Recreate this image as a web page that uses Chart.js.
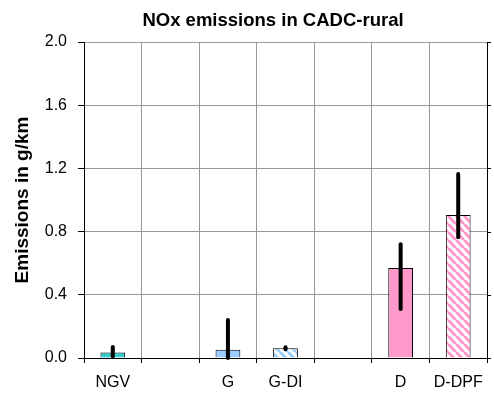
<!DOCTYPE html>
<html>
<head>
<meta charset="utf-8">
<script src="https://cdn.jsdelivr.net/npm/chart.js@4/dist/chart.umd.min.js"></script>
<style>
    html, body { margin: 0; padding: 0; background: #fff; }
    #wrap { width: 494px; height: 394px; }
</style>
</head>
<body>
<div id="wrap"><canvas id="noxChart" width="494" height="394"></canvas></div>
<script>
// Vehicle groups (empty slots act as spacers between groups)
const categories = ['NGV', '', 'G', 'G-DI', '', 'D', 'D-DPF'];
const meanValues = [0.035, null, 0.053, 0.062, null, 0.57, 0.905];
const errorLow = [0.01, null, 0.0, 0.055, null, 0.31, 0.765];
const errorHigh = [0.07, null, 0.24, 0.068, null, 0.72, 1.165];
const yTicks = [0, 0.4, 0.8, 1.2, 1.6, 2.0];
const chartTitle = 'NOx emissions in CADC-rural';

// Diagonal stripe fill for the DI / DPF variants
function stripes(color) {
    const c = document.createElement('canvas');
    c.width = 8;
    c.height = 8;
    const g = c.getContext('2d');
    g.fillStyle = '#fff';
    g.fillRect(0, 0, 8, 8);
    g.strokeStyle = color;
    g.lineWidth = 3;
    g.beginPath();
    for (let k = -8; k <= 16; k += 8) {
        g.moveTo(k, 0);
        g.lineTo(k + 8, 8);
    }
    g.stroke();
    return g.createPattern(c, 'repeat');
}

const fills = ['#33CCCC', null, '#99CCFF', stripes('#99CCFF'), null, '#FF99CC', stripes('#FF99CC')];

// Error bars drawn as thick vertical lines from low to high
const errorBars = {
    id: 'errorBars',
    afterDatasetsDraw(chart) {
        const ctx = chart.ctx;
        const meta = chart.getDatasetMeta(0);
        const y = chart.scales.y;
        ctx.save();
        ctx.strokeStyle = '#000';
        ctx.lineWidth = 4;
        ctx.lineCap = 'round';
        meta.data.forEach((bar, i) => {
            if (errorLow[i] == null) return;
            ctx.beginPath();
            ctx.moveTo(bar.x, y.getPixelForValue(errorLow[i]));
            ctx.lineTo(bar.x, y.getPixelForValue(errorHigh[i]));
            ctx.stroke();
        });
        ctx.restore();
    }
};

// Right-hand frame line with outward tick marks, plus the heading
const frameAndTitle = {
    id: 'frameAndTitle',
    afterDraw(chart) {
        const ctx = chart.ctx;
        const area = chart.chartArea;
        const y = chart.scales.y;
        ctx.save();
        ctx.strokeStyle = '#000';
        ctx.lineWidth = 1;
        ctx.beginPath();
        ctx.moveTo(area.right + 0.5, area.top);
        ctx.lineTo(area.right + 0.5, area.bottom);
        yTicks.forEach(v => {
            const py = Math.round(y.getPixelForValue(v)) + 0.5;
            ctx.moveTo(area.right, py);
            ctx.lineTo(area.right + 4, py);
        });
        ctx.stroke();

        ctx.fillStyle = '#000';
        ctx.font = 'bold 18.5px "Liberation Sans", Arial';
        ctx.textAlign = 'center';
        ctx.textBaseline = 'alphabetic';
        ctx.fillText(chartTitle, 273, 26);
        ctx.restore();
    }
};

new Chart(document.getElementById('noxChart'), {
    type: 'bar',
    data: {
        labels: categories,
        datasets: [{
            data: meanValues,
            backgroundColor: fills,
            borderColor: '#000',
            borderWidth: 1,
            barPercentage: 0.43,
            categoryPercentage: 1.0
        }]
    },
    options: {
        responsive: false,
        animation: false,
        layout: { padding: { top: 42, right: 7, bottom: 0, left: 0 } },
        plugins: {
            legend: { display: false },
            tooltip: { enabled: false },
            title: { display: false }
        },
        scales: {
            x: {
                grid: {
                    offset: true,
                    color: '#999',
                    tickColor: '#000',
                    tickLength: 5
                },
                border: { color: '#000' },
                ticks: {
                    color: '#000',
                    font: { family: 'Liberation Sans, Arial', size: 16 },
                    padding: 10,
                    maxRotation: 0,
                    autoSkip: false
                },
                afterFit(scale) { scale.height = 36; }
            },
            y: {
                min: 0,
                max: 2.0,
                afterBuildTicks(scale) {
                    scale.ticks = yTicks.map(v => ({ value: v }));
                },
                grid: {
                    color: '#999',
                    tickColor: '#000',
                    tickLength: 6
                },
                border: { color: '#000' },
                ticks: {
                    color: '#000',
                    font: { family: 'Liberation Sans, Arial', size: 16 },
                    padding: 11,
                    callback: v => v.toFixed(1)
                },
                title: {
                    display: true,
                    text: 'Emissions in g/km',
                    color: '#000',
                    font: { family: 'Liberation Sans, Arial', size: 19, weight: 'bold' },
                    padding: { top: 11, bottom: 0 }
                },
                afterFit(scale) { scale.width = 84; }
            }
        }
    },
    plugins: [errorBars, frameAndTitle]
});
</script>
</body>
</html>
